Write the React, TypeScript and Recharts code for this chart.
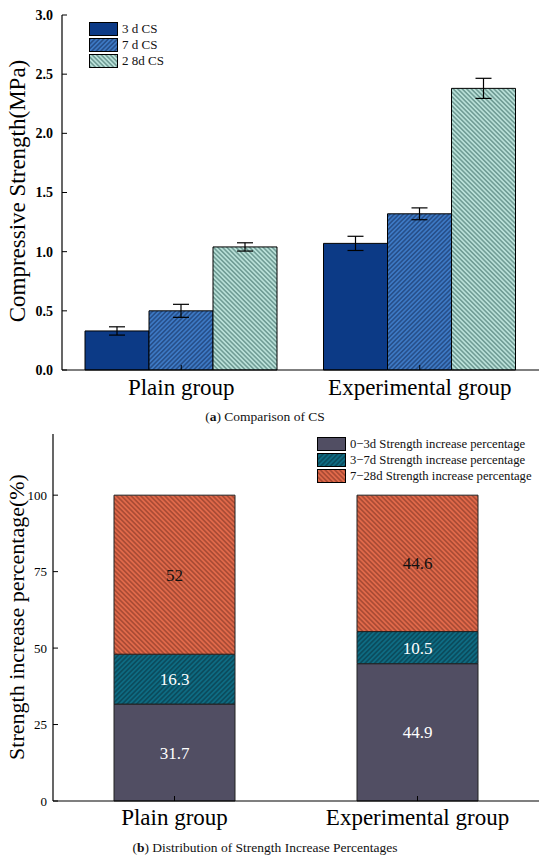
import React from 'react';
import { BarChart, Bar, XAxis, YAxis, ErrorBar, LabelList } from 'recharts';

// categories
const groups = ['Plain group', 'Experimental group'];

// (a) compressive strength, MPa
const cs3d = [0.33, 1.07];
const cs7d = [0.5, 1.32];
const cs28d = [1.04, 2.38];
const err3d = [0.035, 0.06];
const err7d = [0.055, 0.05];
const err28d = [0.035, 0.085];
const csTicks = [0, 0.5, 1, 1.5, 2, 2.5, 3];

// (b) strength increase percentage, %
const inc0to3 = [31.7, 44.9];
const inc3to7 = [16.3, 10.5];
const inc7to28 = [52, 44.6];
const pctTicks = [0, 25, 50, 75, 100];

const serif = 'Liberation Serif, Times New Roman, serif';

const csSeries = [
  { key: 'cs3d', err: 'err3d', name: '3 d CS', fill: '#0c3a86' },
  { key: 'cs7d', err: 'err7d', name: '7 d CS', fill: 'url(#hatch7d)' },
  { key: 'cs28d', err: 'err28d', name: '2 8d CS', fill: 'url(#hatch28d)' },
];

const incSeries = [
  { key: 'inc0to3', name: '0\u22123d Strength increase percentage', fill: '#514e63', label: '#fff' },
  { key: 'inc3to7', name: '3\u22127d Strength increase percentage', fill: 'url(#hatchTeal)', label: '#fff' },
  { key: 'inc7to28', name: '7\u221228d Strength increase percentage', fill: 'url(#hatchOrange)', label: '#111' },
];

const csData = groups.map((name, i) => ({
  name,
  cs3d: cs3d[i],
  cs7d: cs7d[i],
  cs28d: cs28d[i],
  err3d: err3d[i],
  err7d: err7d[i],
  err28d: err28d[i],
}));

const incData = groups.map((name, i) => ({
  name,
  inc0to3: inc0to3[i],
  inc3to7: inc3to7[i],
  inc7to28: inc7to28[i],
}));

// hatch fill: coloured ground with thin diagonal lines
const Hatch = ({ id, bg, line, angle, size }: any) => (
  <pattern id={id} width={size} height={size} patternUnits="userSpaceOnUse" patternTransform={`rotate(${angle})`}>
    <rect width={size} height={size} fill={bg} />
    <line x1={size / 2} y1={0} x2={size / 2} y2={size} stroke={line} strokeWidth={0.9} />
  </pattern>
);

const yTitle = (text: string, x: number, cy: number, size: number) => () => (
  <text x={x} y={cy} transform={`rotate(-90, ${x}, ${cy})`} textAnchor="middle" fontSize={size} fill="#000">
    {text}
  </text>
);

const LegendBox = ({ items, fontSize }: any) => (
  <div>
    {items.map((s: any) => (
      <div key={s.key} style={{ display: 'flex', alignItems: 'center', height: 16 }}>
        <svg width={30} height={14} style={{ marginRight: 3 }}>
          <rect x={0.5} y={0.5} width={28} height={13} fill={s.fill} stroke="#000" strokeWidth={1} />
        </svg>
        <span style={{ fontSize, color: '#111', whiteSpace: 'nowrap' }}>{s.name}</span>
      </div>
    ))}
  </div>
);

const axisLine = { stroke: '#000', strokeWidth: 1.2 };

export default function App() {
  return (
    <div style={{ position: 'relative', width: 550, height: 860, background: '#fff', fontFamily: serif }}>
      <style>{'body{margin:0} svg text, svg tspan{font-family:"Liberation Serif","Times New Roman",serif}'}</style>
      <svg width={0} height={0} style={{ position: 'absolute' }}>
        <defs>
          <Hatch id="hatch7d" bg="#3d79c4" line="#15305e" angle={45} size={3.2} />
          <Hatch id="hatch28d" bg="#b9e0d8" line="#3a6a65" angle={-45} size={3.2} />
          <Hatch id="hatchTeal" bg="#0e6b82" line="#07313d" angle={45} size={3.4} />
          <Hatch id="hatchOrange" bg="#e0694a" line="#7c3222" angle={-45} size={3.4} />
        </defs>
      </svg>

      {/* (a) Comparison of CS */}
      <div style={{ position: 'absolute', left: 0, top: 0 }}>
        <BarChart width={550} height={410} data={csData} margin={{ top: 15, right: 11, bottom: 0, left: 0 }} barCategoryGap={23} barGap={0}>
          <XAxis dataKey="name" height={40} axisLine={axisLine} tickLine={{ stroke: '#000' }} tickSize={-5} tickMargin={14}
            tick={{ fontSize: 23, fill: '#000' }} />
          <XAxis xAxisId="top" dataKey="name" orientation="top" height={0} tick={false} tickLine={false} axisLine={axisLine} />
          <YAxis width={62} domain={[0, 3]} ticks={csTicks} axisLine={axisLine} tickLine={{ stroke: '#000' }} tickSize={-5} tickMargin={14}
            tickFormatter={(v: number) => v.toFixed(1)}
            tick={{ fontSize: 14, fontWeight: 'bold', fill: '#000' }}
            label={yTitle('Compressive Strength(MPa)', 25, 191, 23)} />
          <YAxis yAxisId="right" orientation="right" width={0} domain={[0, 3]} tick={false} tickLine={false} axisLine={axisLine} />
          {csSeries.map((s) => (
            <Bar key={s.key} dataKey={s.key} name={s.name} fill={s.fill} stroke="#000" strokeWidth={1} isAnimationActive={false}>
              <ErrorBar dataKey={s.err} width={8} stroke="#000" strokeWidth={1.2} />
            </Bar>
          ))}
        </BarChart>
      </div>
      <div style={{ position: 'absolute', left: 89, top: 21 }}>
        <LegendBox items={csSeries} fontSize={13} />
      </div>
      <div style={{ position: 'absolute', left: 0, width: 530, top: 409, textAlign: 'center', fontSize: 13.5, color: '#111' }}>
        (<b>a</b>) Comparison of CS
      </div>

      {/* (b) Distribution of Strength Increase Percentages */}
      <div style={{ position: 'absolute', left: 0, top: 420 }}>
        <BarChart width={550} height={440} data={incData} margin={{ top: 14, right: 11, bottom: 0, left: 0 }} barCategoryGap={61}>
          <XAxis dataKey="name" height={59} axisLine={axisLine} tickLine={{ stroke: '#000' }} tickSize={-5} tickMargin={13}
            tick={{ fontSize: 23, fill: '#000' }} />
          <XAxis xAxisId="top" dataKey="name" orientation="top" height={0} tick={false} tickLine={false} axisLine={axisLine} />
          <YAxis width={53} domain={[0, 120]} ticks={pctTicks} axisLine={axisLine} tickLine={{ stroke: '#000' }} tickSize={-5} tickMargin={11}
            tick={{ fontSize: 13, fill: '#000' }}
            label={yTitle('Strength increase percentage(%)', 24, 197, 22)} />
          <YAxis yAxisId="right" orientation="right" width={0} domain={[0, 120]} tick={false} tickLine={false} axisLine={axisLine} />
          {incSeries.map((s) => (
            <Bar key={s.key} dataKey={s.key} name={s.name} stackId="pct" fill={s.fill} stroke="#222" strokeWidth={1} isAnimationActive={false}>
              <LabelList dataKey={s.key} position="center" fill={s.label} fontSize={17} />
            </Bar>
          ))}
        </BarChart>
      </div>
      <div style={{ position: 'absolute', left: 317, top: 436 }}>
        <LegendBox items={incSeries} fontSize={12.7} />
      </div>
      <div style={{ position: 'absolute', left: 0, width: 530, top: 840, textAlign: 'center', fontSize: 13.5, color: '#111' }}>
        (<b>b</b>) Distribution of Strength Increase Percentages
      </div>
    </div>
  );
}
